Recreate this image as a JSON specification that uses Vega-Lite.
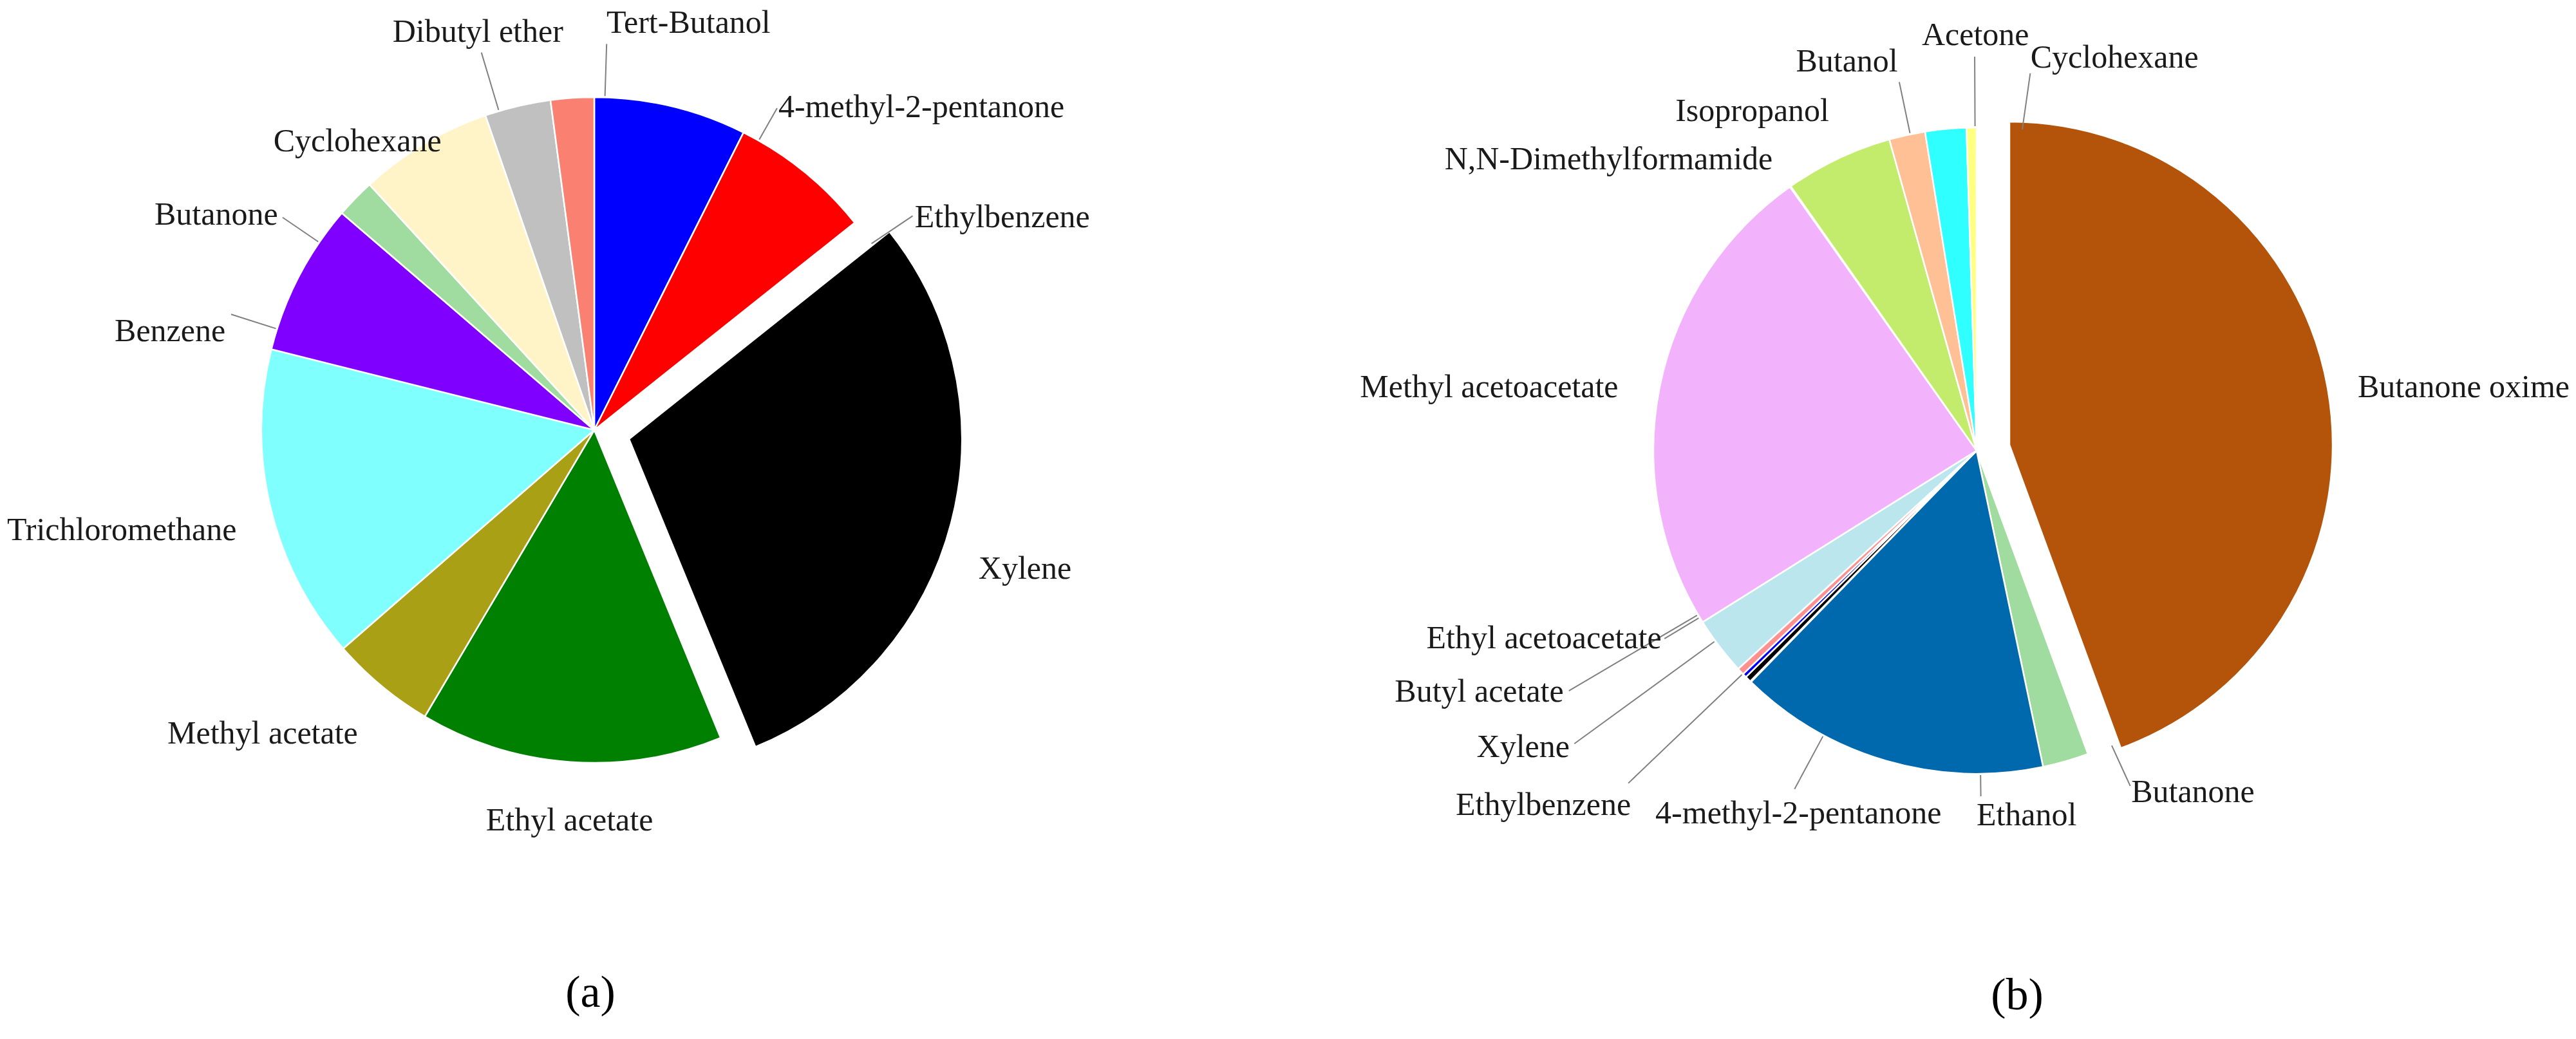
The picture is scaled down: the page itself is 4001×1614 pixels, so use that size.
{
  "$schema": "https://vega.github.io/schema/vega-lite/v6.json",
  "background": "white",
  "padding": 0,
  "bounds": "flush",
  "spacing": 293,
  "config": {"view": {"stroke": null}, "text": {"font": "Liberation Serif", "fontSize": 50, "color": "#1a1a1a", "baseline": "middle"}},
  "datasets": {
    "a": [
      {"name": "4-methyl-2-pentanone", "value": 7.4},
      {"name": "Ethylbenzene", "value": 6.9},
      {"name": "Xylene", "value": 29.5},
      {"name": "Ethyl acetate", "value": 14.7},
      {"name": "Methyl acetate", "value": 5.1},
      {"name": "Trichloromethane", "value": 15.3},
      {"name": "Benzene", "value": 7.4},
      {"name": "Butanone", "value": 1.9},
      {"name": "Cyclohexane", "value": 6.5},
      {"name": "Dibutyl ether", "value": 3.2},
      {"name": "Tert-Butanol", "value": 2.1}
    ],
    "b": [
      {"name": "Butanone oxime", "value": 44.4},
      {"name": "Butanone", "value": 2.3},
      {"name": "Ethanol", "value": 15.6},
      {"name": "4-methyl-2-pentanone", "value": 0.05},
      {"name": "Ethylbenzene", "value": 0.3},
      {"name": "Xylene", "value": 0.2},
      {"name": "Butyl acetate", "value": 0.35},
      {"name": "Ethyl acetoacetate", "value": 2.9},
      {"name": "Methyl acetoacetate", "value": 24.1},
      {"name": "N,N-Dimethylformamide", "value": 0.05},
      {"name": "Isopropanol", "value": 5.4},
      {"name": "Butanol", "value": 1.8},
      {"name": "Acetone", "value": 2.05},
      {"name": "Cyclohexane", "value": 0.5}
    ]
  },
  "resolve": {"scale": {"color": "independent", "theta": "independent"}},
  "hconcat": [
    {
      "width": 1846,
      "height": 1336,
      "data": {"name": "a"},
      "transform": [
        {"window": [{"op": "row_number", "as": "k"}]},
        {"stack": "value", "groupby": [], "sort": [{"field": "k", "order": "ascending"}], "as": ["v0", "v1"]},
        {"fold": ["v0", "v1"], "as": ["edge", "ang"]},
        {"aggregate": [{"op": "mean", "field": "ang", "as": "mid"}], "groupby": ["name", "value", "k", "v0", "v1"]}
      ],
      "title": {"text": "(a)", "orient": "bottom", "offset": 173, "dx": -6, "anchor": "middle", "frame": "group", "font": "Liberation Serif", "fontSize": 70, "fontWeight": "normal", "color": "#000000"},
      "layer": [
        {
          "transform": [{"filter": "datum.name !== 'Xylene'"}],
          "mark": {"type": "arc", "outerRadius": 517, "stroke": "white", "strokeWidth": 2.5},
          "encoding": {
            "theta": {"field": "v0", "type": "quantitative", "stack": null, "scale": {"domain": [0, 100]}},
            "theta2": {"field": "v1"},
            "color": {"field": "name", "type": "nominal", "legend": null,
              "scale": {"domain": ["4-methyl-2-pentanone", "Ethylbenzene", "Xylene", "Ethyl acetate", "Methyl acetate", "Trichloromethane", "Benzene", "Butanone", "Cyclohexane", "Dibutyl ether", "Tert-Butanol"],
                        "range": ["#0000FF", "#FF0000", "#000000", "#008000", "#A9A016", "#80FFFF", "#8000FF", "#A0DCA0", "#FFF4C8", "#C0C0C0", "#FA8072"]}}
          }
        },
        {
          "transform": [{"filter": "datum.name === 'Xylene'"}],
          "mark": {"type": "arc", "outerRadius": 517, "stroke": "white", "strokeWidth": 2.5, "xOffset": 54, "yOffset": 14},
          "encoding": {
            "theta": {"field": "v0", "type": "quantitative", "stack": null, "scale": {"domain": [0, 100]}},
            "theta2": {"field": "v1"},
            "color": {"field": "name", "type": "nominal", "legend": null}
          }
        },
        {"transform": [{"filter": "datum.name === 'Tert-Butanol'"}],
         "mark": {"type": "arc", "innerRadius": 519, "outerRadius": 600, "padAngle": 3, "thetaOffset": 0.098, "theta2Offset": 0.098, "filled": false, "stroke": "#808080", "strokeWidth": 2},
         "encoding": {"theta": {"field": "v0", "type": "quantitative", "stack": null}, "theta2": {"field": "v1"}}},
        {"transform": [{"filter": "datum.name === 'Dibutyl ether'"}],
         "mark": {"type": "arc", "innerRadius": 519, "outerRadius": 612, "padAngle": 3, "thetaOffset": -0.058, "theta2Offset": -0.058, "filled": false, "stroke": "#808080", "strokeWidth": 2},
         "encoding": {"theta": {"field": "v0", "type": "quantitative", "stack": null}, "theta2": {"field": "v1"}}},
        {"transform": [{"filter": "datum.name === '4-methyl-2-pentanone'"}],
         "mark": {"type": "arc", "innerRadius": 519, "outerRadius": 575, "padAngle": 3, "thetaOffset": 0.284, "theta2Offset": 0.284, "filled": false, "stroke": "#808080", "strokeWidth": 2},
         "encoding": {"theta": {"field": "v0", "type": "quantitative", "stack": null}, "theta2": {"field": "v1"}}},
        {"transform": [{"filter": "datum.name === 'Ethylbenzene'"}],
         "mark": {"type": "arc", "innerRadius": 519, "outerRadius": 596, "padAngle": 3, "thetaOffset": 0.297, "theta2Offset": 0.297, "filled": false, "stroke": "#808080", "strokeWidth": 2},
         "encoding": {"theta": {"field": "v0", "type": "quantitative", "stack": null}, "theta2": {"field": "v1"}}},
        {"transform": [{"filter": "datum.name === 'Butanone'"}],
         "mark": {"type": "arc", "innerRadius": 519, "outerRadius": 586, "padAngle": 3, "thetaOffset": -0.171, "theta2Offset": -0.171, "filled": false, "stroke": "#808080", "strokeWidth": 2},
         "encoding": {"theta": {"field": "v0", "type": "quantitative", "stack": null}, "theta2": {"field": "v1"}}},
        {"transform": [{"filter": "datum.name === 'Benzene'"}],
         "mark": {"type": "arc", "innerRadius": 519, "outerRadius": 592, "padAngle": 3, "thetaOffset": -0.169, "theta2Offset": -0.169, "filled": false, "stroke": "#808080", "strokeWidth": 2},
         "encoding": {"theta": {"field": "v0", "type": "quantitative", "stack": null}, "theta2": {"field": "v1"}}},
        {"transform": [{"filter": "datum.name === 'Tert-Butanol'"}],
         "mark": {"type": "text", "radius": 632, "thetaOffset": 0.096, "align": "left"},
         "encoding": {"theta": {"field": "mid", "type": "quantitative", "stack": null}, "text": {"field": "name"}}},
        {"transform": [{"filter": "datum.name === 'Dibutyl ether'"}],
         "mark": {"type": "text", "radius": 644, "thetaOffset": -0.052, "align": "center"},
         "encoding": {"theta": {"field": "mid", "type": "quantitative", "stack": null}, "text": {"field": "name"}}},
        {"transform": [{"filter": "datum.name === '4-methyl-2-pentanone'"}],
         "mark": {"type": "text", "radius": 577, "thetaOffset": 0.286, "align": "left"},
         "encoding": {"theta": {"field": "mid", "type": "quantitative", "stack": null}, "text": {"field": "name"}}},
        {"transform": [{"filter": "datum.name === 'Ethylbenzene'"}],
         "mark": {"type": "text", "radius": 597, "thetaOffset": 0.304, "align": "left"},
         "encoding": {"theta": {"field": "mid", "type": "quantitative", "stack": null}, "text": {"field": "name"}}},
        {"transform": [{"filter": "datum.name === 'Xylene'"}],
         "mark": {"type": "text", "radius": 703, "thetaOffset": 0.058, "align": "center"},
         "encoding": {"theta": {"field": "mid", "type": "quantitative", "stack": null}, "text": {"field": "name"}}},
        {"transform": [{"filter": "datum.name === 'Ethyl acetate'"}],
         "mark": {"type": "text", "radius": 608, "thetaOffset": -0.009, "align": "center"},
         "encoding": {"theta": {"field": "mid", "type": "quantitative", "stack": null}, "text": {"field": "name"}}},
        {"transform": [{"filter": "datum.name === 'Methyl acetate'"}],
         "mark": {"type": "text", "radius": 598, "thetaOffset": -0.033, "align": "right"},
         "encoding": {"theta": {"field": "mid", "type": "quantitative", "stack": null}, "text": {"field": "name"}}},
        {"transform": [{"filter": "datum.name === 'Trichloromethane'"}],
         "mark": {"type": "text", "radius": 577, "thetaOffset": -0.038, "align": "right"},
         "encoding": {"theta": {"field": "mid", "type": "quantitative", "stack": null}, "text": {"field": "name"}}},
        {"transform": [{"filter": "datum.name === 'Benzene'"}],
         "mark": {"type": "text", "radius": 593, "thetaOffset": -0.216, "align": "right"},
         "encoding": {"theta": {"field": "mid", "type": "quantitative", "stack": null}, "text": {"field": "name"}}},
        {"transform": [{"filter": "datum.name === 'Butanone'"}],
         "mark": {"type": "text", "radius": 594, "thetaOffset": -0.173, "align": "right"},
         "encoding": {"theta": {"field": "mid", "type": "quantitative", "stack": null}, "text": {"field": "name"}}},
        {"transform": [{"filter": "datum.name === 'Cyclohexane'"}],
         "mark": {"type": "text", "radius": 507, "thetaOffset": 0.05, "align": "right"},
         "encoding": {"theta": {"field": "mid", "type": "quantitative", "stack": null}, "text": {"field": "name"}}}
      ]
    },
    {
      "width": 1862,
      "height": 1400,
      "data": {"name": "b"},
      "transform": [
        {"window": [{"op": "row_number", "as": "k"}]},
        {"stack": "value", "groupby": [], "sort": [{"field": "k", "order": "ascending"}], "as": ["v0", "v1"]},
        {"fold": ["v0", "v1"], "as": ["edge", "ang"]},
        {"aggregate": [{"op": "mean", "field": "ang", "as": "mid"}], "groupby": ["name", "value", "k", "v0", "v1"]}
      ],
      "title": {"text": "(b)", "orient": "bottom", "offset": 113, "dx": 63, "anchor": "middle", "frame": "group", "font": "Liberation Serif", "fontSize": 70, "fontWeight": "normal", "color": "#000000"},
      "layer": [
        {
          "transform": [{"filter": "datum.name !== 'Butanone oxime'"}],
          "mark": {"type": "arc", "outerRadius": 502, "stroke": "white", "strokeWidth": 2.5},
          "encoding": {
            "theta": {"field": "v0", "type": "quantitative", "stack": null, "scale": {"domain": [0, 100]}},
            "theta2": {"field": "v1"},
            "color": {"field": "name", "type": "nominal", "legend": null,
              "scale": {"domain": ["Butanone oxime", "Butanone", "Ethanol", "4-methyl-2-pentanone", "Ethylbenzene", "Xylene", "Butyl acetate", "Ethyl acetoacetate", "Methyl acetoacetate", "N,N-Dimethylformamide", "Isopropanol", "Butanol", "Acetone", "Cyclohexane"],
                        "range": ["#B4540A", "#A0DCA0", "#0068AD", "#D8D8D8", "#000000", "#0000FF", "#FF9090", "#BCE6EE", "#F2B3FC", "#D0D0D0", "#C3EC6C", "#FFC096", "#30FFFF", "#FFFF80"]}}
          }
        },
        {
          "transform": [{"filter": "datum.name === 'Butanone oxime'"}],
          "mark": {"type": "arc", "outerRadius": 502, "stroke": "white", "strokeWidth": 2.5, "xOffset": 51, "yOffset": -9},
          "encoding": {
            "theta": {"field": "v0", "type": "quantitative", "stack": null, "scale": {"domain": [0, 100]}},
            "theta2": {"field": "v1"},
            "color": {"field": "name", "type": "nominal", "legend": null}
          }
        },
        {"transform": [{"filter": "datum.name === 'Cyclohexane'"}],
         "mark": {"type": "arc", "innerRadius": 504, "outerRadius": 592, "padAngle": 3, "thetaOffset": 0.157, "theta2Offset": 0.157, "filled": false, "stroke": "#808080", "strokeWidth": 2},
         "encoding": {"theta": {"field": "v0", "type": "quantitative", "stack": null}, "theta2": {"field": "v1"}}},
        {"transform": [{"filter": "datum.name === 'Acetone'"}],
         "mark": {"type": "arc", "innerRadius": 504, "outerRadius": 612, "padAngle": 3, "thetaOffset": 0.091, "theta2Offset": 0.091, "filled": false, "stroke": "#808080", "strokeWidth": 2},
         "encoding": {"theta": {"field": "v0", "type": "quantitative", "stack": null}, "theta2": {"field": "v1"}}},
        {"transform": [{"filter": "datum.name === 'Butanol'"}],
         "mark": {"type": "arc", "innerRadius": 504, "outerRadius": 585, "padAngle": 3, "thetaOffset": 0.01, "theta2Offset": 0.01, "filled": false, "stroke": "#808080", "strokeWidth": 2},
         "encoding": {"theta": {"field": "v0", "type": "quantitative", "stack": null}, "theta2": {"field": "v1"}}},
        {"transform": [{"filter": "datum.name === 'Ethyl acetoacetate'"}],
         "mark": {"type": "arc", "innerRadius": 504, "outerRadius": 566, "padAngle": 3, "thetaOffset": 0.108, "theta2Offset": 0.108, "filled": false, "stroke": "#808080", "strokeWidth": 2},
         "encoding": {"theta": {"field": "v0", "type": "quantitative", "stack": null}, "theta2": {"field": "v1"}}},
        {"transform": [{"filter": "datum.name === 'Butyl acetate'"}],
         "mark": {"type": "arc", "innerRadius": 504, "outerRadius": 735, "padAngle": 3, "thetaOffset": 0.22, "theta2Offset": 0.22, "filled": false, "stroke": "#808080", "strokeWidth": 2},
         "encoding": {"theta": {"field": "v0", "type": "quantitative", "stack": null}, "theta2": {"field": "v1"}}},
        {"transform": [{"filter": "datum.name === 'Xylene'"}],
         "mark": {"type": "arc", "innerRadius": 504, "outerRadius": 773, "padAngle": 3, "thetaOffset": 0.14, "theta2Offset": 0.14, "filled": false, "stroke": "#808080", "strokeWidth": 2},
         "encoding": {"theta": {"field": "v0", "type": "quantitative", "stack": null}, "theta2": {"field": "v1"}}},
        {"transform": [{"filter": "datum.name === 'Ethylbenzene'"}],
         "mark": {"type": "arc", "innerRadius": 504, "outerRadius": 748, "padAngle": 3, "thetaOffset": 0.023, "theta2Offset": 0.023, "filled": false, "stroke": "#808080", "strokeWidth": 2},
         "encoding": {"theta": {"field": "v0", "type": "quantitative", "stack": null}, "theta2": {"field": "v1"}}},
        {"transform": [{"filter": "datum.name === '4-methyl-2-pentanone'"}],
         "mark": {"type": "arc", "innerRadius": 504, "outerRadius": 597, "padAngle": 3, "thetaOffset": -0.281, "theta2Offset": -0.281, "filled": false, "stroke": "#808080", "strokeWidth": 2},
         "encoding": {"theta": {"field": "v0", "type": "quantitative", "stack": null}, "theta2": {"field": "v1"}}},
        {"transform": [{"filter": "datum.name === 'Ethanol'"}],
         "mark": {"type": "arc", "innerRadius": 504, "outerRadius": 537, "padAngle": 3, "thetaOffset": -0.295, "theta2Offset": -0.295, "filled": false, "stroke": "#808080", "strokeWidth": 2},
         "encoding": {"theta": {"field": "v0", "type": "quantitative", "stack": null}, "theta2": {"field": "v1"}}},
        {"transform": [{"filter": "datum.name === 'Butanone'"}],
         "mark": {"type": "arc", "innerRadius": 504, "outerRadius": 573, "padAngle": 3, "thetaOffset": -0.15, "theta2Offset": -0.15, "filled": false, "stroke": "#808080", "strokeWidth": 2},
         "encoding": {"theta": {"field": "v0", "type": "quantitative", "stack": null}, "theta2": {"field": "v1"}}},
        {"transform": [{"filter": "datum.name === 'Butanone oxime'"}],
         "mark": {"type": "text", "radius": 600, "thetaOffset": 0.012, "align": "left"},
         "encoding": {"theta": {"field": "mid", "type": "quantitative", "stack": null}, "text": {"field": "name"}}},
        {"transform": [{"filter": "datum.name === 'Butanone'"}],
         "mark": {"type": "text", "radius": 583, "thetaOffset": -0.145, "align": "left"},
         "encoding": {"theta": {"field": "mid", "type": "quantitative", "stack": null}, "text": {"field": "name"}}},
        {"transform": [{"filter": "datum.name === 'Ethanol'"}],
         "mark": {"type": "text", "radius": 572, "thetaOffset": -0.419, "align": "center"},
         "encoding": {"theta": {"field": "mid", "type": "quantitative", "stack": null}, "text": {"field": "name"}}},
        {"transform": [{"filter": "datum.name === '4-methyl-2-pentanone'"}],
         "mark": {"type": "text", "radius": 628, "thetaOffset": -0.318, "align": "center"},
         "encoding": {"theta": {"field": "mid", "type": "quantitative", "stack": null}, "text": {"field": "name"}}},
        {"transform": [{"filter": "datum.name === 'Ethylbenzene'"}],
         "mark": {"type": "text", "radius": 870, "thetaOffset": 0.099, "align": "center"},
         "encoding": {"theta": {"field": "mid", "type": "quantitative", "stack": null}, "text": {"field": "name"}}},
        {"transform": [{"filter": "datum.name === 'Xylene'"}],
         "mark": {"type": "text", "radius": 782, "thetaOffset": 0.14, "align": "right"},
         "encoding": {"theta": {"field": "mid", "type": "quantitative", "stack": null}, "text": {"field": "name"}}},
        {"transform": [{"filter": "datum.name === 'Butyl acetate'"}],
         "mark": {"type": "text", "radius": 743, "thetaOffset": 0.223, "align": "right"},
         "encoding": {"theta": {"field": "mid", "type": "quantitative", "stack": null}, "text": {"field": "name"}}},
        {"transform": [{"filter": "datum.name === 'Ethyl acetoacetate'"}],
         "mark": {"type": "text", "radius": 570, "thetaOffset": 0.112, "align": "right"},
         "encoding": {"theta": {"field": "mid", "type": "quantitative", "stack": null}, "text": {"field": "name"}}},
        {"transform": [{"filter": "datum.name === 'Methyl acetoacetate'"}],
         "mark": {"type": "text", "radius": 565, "thetaOffset": -0.024, "align": "right"},
         "encoding": {"theta": {"field": "mid", "type": "quantitative", "stack": null}, "text": {"field": "name"}}},
        {"transform": [{"filter": "datum.name === 'N,N-Dimethylformamide'"}],
         "mark": {"type": "text", "radius": 552, "thetaOffset": 0.003, "align": "right"},
         "encoding": {"theta": {"field": "mid", "type": "quantitative", "stack": null}, "text": {"field": "name"}}},
        {"transform": [{"filter": "datum.name === 'Isopropanol'"}],
         "mark": {"type": "text", "radius": 632, "thetaOffset": -0.141, "align": "center"},
         "encoding": {"theta": {"field": "mid", "type": "quantitative", "stack": null}, "text": {"field": "name"}}},
        {"transform": [{"filter": "datum.name === 'Butanol'"}],
         "mark": {"type": "text", "radius": 637, "thetaOffset": -0.105, "align": "center"},
         "encoding": {"theta": {"field": "mid", "type": "quantitative", "stack": null}, "text": {"field": "name"}}},
        {"transform": [{"filter": "datum.name === 'Acetone'"}],
         "mark": {"type": "text", "radius": 645, "thetaOffset": 0.093, "align": "center"},
         "encoding": {"theta": {"field": "mid", "type": "quantitative", "stack": null}, "text": {"field": "name"}}},
        {"transform": [{"filter": "datum.name === 'Cyclohexane'"}],
         "mark": {"type": "text", "radius": 616, "thetaOffset": 0.152, "align": "left"},
         "encoding": {"theta": {"field": "mid", "type": "quantitative", "stack": null}, "text": {"field": "name"}}}
      ]
    }
  ]
}
